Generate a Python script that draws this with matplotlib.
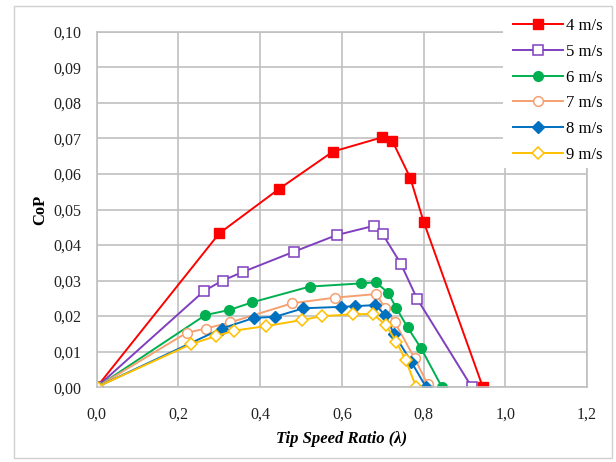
import matplotlib.pyplot as plt
from matplotlib.patches import Rectangle
from matplotlib.ticker import FuncFormatter, MultipleLocator

# wind speed series: tip speed ratio (x) and CoP (y)
x_4 = [0.0, 0.30, 0.445, 0.578, 0.698, 0.723, 0.767, 0.80, 0.945]
y_4 = [0.0, 0.0433, 0.0557, 0.0663, 0.0703, 0.0694, 0.0590, 0.0466, 0.0]

x_5 = [0.0, 0.263, 0.308, 0.359, 0.482, 0.587, 0.678, 0.700, 0.744, 0.784, 0.918]
y_5 = [0.0, 0.0271, 0.0300, 0.0325, 0.0381, 0.0428, 0.0454, 0.0430, 0.0348, 0.0249, 0.0]

x_6 = [0.0, 0.266, 0.324, 0.381, 0.521, 0.646, 0.683, 0.713, 0.733, 0.761, 0.794, 0.845]
y_6 = [0.0, 0.0203, 0.0217, 0.0239, 0.0283, 0.0292, 0.0295, 0.0266, 0.0223, 0.0168, 0.0109, 0.0]

x_7 = [0.0, 0.220, 0.267, 0.326, 0.478, 0.583, 0.684, 0.706, 0.729, 0.778, 0.810]
y_7 = [0.0, 0.0153, 0.0165, 0.0182, 0.0236, 0.0252, 0.0262, 0.0222, 0.0184, 0.0081, 0.0008]

x_8 = [0.0, 0.306, 0.385, 0.436, 0.506, 0.598, 0.633, 0.682, 0.706, 0.727, 0.770, 0.806]
y_8 = [0.0, 0.0165, 0.0195, 0.0198, 0.0222, 0.0226, 0.0228, 0.0231, 0.0203, 0.0151, 0.0071, 0.0]

x_9 = [0.0, 0.231, 0.292, 0.336, 0.415, 0.502, 0.552, 0.626, 0.675, 0.708, 0.733, 0.756, 0.782]
y_9 = [0.0, 0.0121, 0.0144, 0.0159, 0.0172, 0.0189, 0.0200, 0.0205, 0.0206, 0.0175, 0.0128, 0.0076, 0.0]

labels = ['4 m/s', '5 m/s', '6 m/s', '7 m/s', '8 m/s', '9 m/s']

plt.rcParams['font.family'] = ['Liberation Serif', 'DejaVu Serif']

fig = plt.figure(figsize=(6.16, 4.62), dpi=100)
ax = fig.add_axes([0.157, 0.162, 0.796, 0.769])

grey = '#c0c0c0'
ax.plot(x_4, y_4, color='#ff0000', marker='s', ms=7, mfc='#ff0000', mec='#ff0000', lw=1.4, label=labels[0])
ax.plot(x_5, y_5, color='#7f3fbf', marker='s', ms=7, mfc='white', mec='#7f3fbf', mew=1.1, lw=1.4, label=labels[1])
ax.plot(x_6, y_6, color='#00b050', marker='o', ms=7, mfc='#00b050', mec='#00b050', lw=1.4, label=labels[2])
ax.plot(x_7, y_7, color='#f4a070', marker='o', ms=7, mfc='white', mec='#f4a070', mew=1.1, lw=1.4, label=labels[3])
ax.plot(x_8, y_8, color='#0070c0', marker='D', ms=6, mfc='#0070c0', mec='#0070c0', lw=1.4, label=labels[4])
ax.plot(x_9, y_9, color='#ffc000', marker='D', ms=6, mfc='white', mec='#ffc000', mew=1.1, lw=1.4, label=labels[5])

ax.set_xlim(0, 1.2)
ax.set_ylim(0, 0.10)
ax.xaxis.set_major_locator(MultipleLocator(0.2))
ax.yaxis.set_major_locator(MultipleLocator(0.01))
ax.xaxis.set_major_formatter(FuncFormatter(lambda v, p: f'{v:.1f}'.replace('.', ',')))
ax.yaxis.set_major_formatter(FuncFormatter(lambda v, p: f'{v:.2f}'.replace('.', ',')))
ax.grid(True, color=grey, lw=1.2)
ax.set_axisbelow(True)
for s in ax.spines.values():
    s.set_color(grey)
    s.set_linewidth(1.2)
ax.tick_params(length=0, labelsize=11.5, colors='#222222')
ax.tick_params(axis='y', pad=11)
ax.tick_params(axis='x', pad=14)

ax.set_ylabel('CoP', fontsize=12, fontweight='bold', labelpad=4)
ax.set_xlabel('Tip Speed Ratio (λ)', fontsize=12, fontweight='bold', fontstyle='italic', labelpad=6)

# white area behind the legend, covering the top right of the plot
fig.patches.append(Rectangle((503 / 616, 1 - 168 / 462), 108 / 616, 158 / 462,
                             transform=fig.transFigure, facecolor='white', edgecolor='none'))
fig.legend(loc='upper right', bbox_to_anchor=(0.995, 0.982), frameon=False, fontsize=12,
           handlelength=3.0, labelspacing=0.58, handletextpad=0.2, borderaxespad=0.2)

# light frame round the whole chart
fig.patches.append(Rectangle((14 / 616, 4 / 462), 598 / 616, 452 / 462, transform=fig.transFigure,
                             facecolor='none', edgecolor='#d0d0d0', lw=1.0))

fig.savefig('out.png', dpi=100)
